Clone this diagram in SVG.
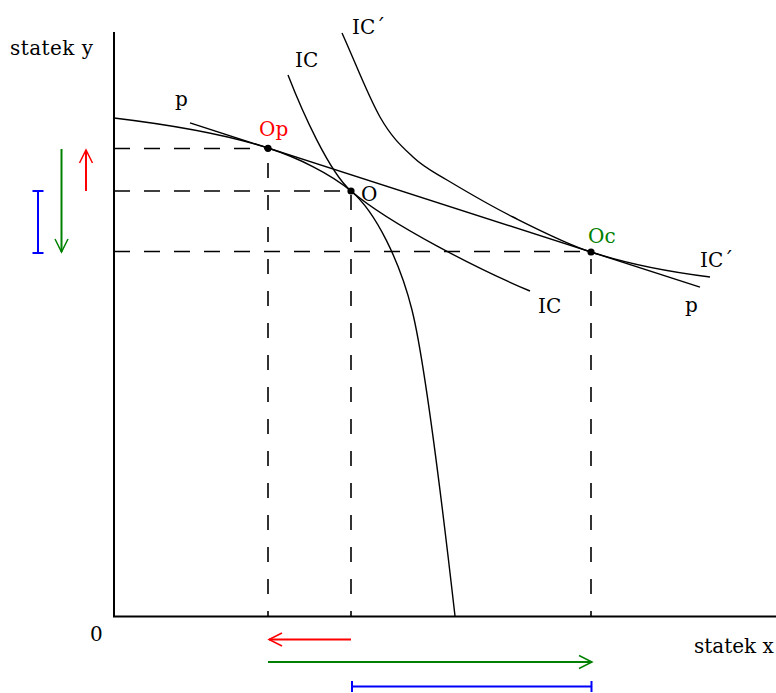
<svg xmlns="http://www.w3.org/2000/svg" width="776" height="693" viewBox="0 0 776 693">
  <style>
    .axis { stroke: #000; stroke-width: 2; fill: none; }
    .curve { stroke: #000; stroke-width: 1.4; fill: none; }
    .hdash { stroke: #000; stroke-width: 1.6; fill: none; stroke-dasharray: 16 14; }
    .vdash { stroke: #000; stroke-width: 1.6; fill: none; stroke-dasharray: 15 17; stroke-dashoffset: 10; }
    .lbl { font-family: "DejaVu Serif", "Liberation Serif", serif; font-size: 20px; fill: #000; }
    .red { stroke: #ff0000; }
    .green { stroke: #008000; }
    .blue { stroke: #0000ff; }
    .shaft { stroke-width: 2; fill: none; }
    .dot { fill: #000; }
  </style>
  <defs>
    <marker id="headRed" markerUnits="userSpaceOnUse" markerWidth="20" markerHeight="20" viewBox="-16 -10 20 20" refX="0" refY="0" orient="auto">
      <path d="M-13,-6.5 L0,0 L-13,6.5" fill="none" stroke="#ff0000" stroke-width="1.5"/>
    </marker>
    <marker id="headGreen" markerUnits="userSpaceOnUse" markerWidth="20" markerHeight="20" viewBox="-16 -10 20 20" refX="0" refY="0" orient="auto">
      <path d="M-13,-6.5 L0,0 L-13,6.5" fill="none" stroke="#008000" stroke-width="1.5"/>
    </marker>
  </defs>
  <rect width="776" height="693" fill="#fff"/>

  <g id="axes">
    <line class="axis" x1="114" y1="32" x2="114" y2="617"/>
    <line class="axis" x1="113" y1="616.5" x2="776" y2="616.5"/>
    <text class="lbl" x="10" y="55" textLength="83">statek y</text>
    <text class="lbl" x="694" y="653">statek x</text>
    <text class="lbl" x="90" y="641">0</text>
  </g>

  <g id="connectors">
    <g id="guides">
      <path class="hdash" d="M114 148.5 H268"/>
      <path class="hdash" d="M114 191 H351"/>
      <path class="hdash" d="M114 251.5 H591"/>
      <path class="vdash" d="M268 616 V148"/>
      <path class="vdash" d="M351 616 V191"/>
      <path class="vdash" d="M591 616 V252"/>
    </g>
    <path id="ppf" class="curve" d="M114 118 C164 124 218 132 268 148 C298 157.7 331 174 351 191 C376 212 400 262 412 310 C427 370 447 546 455 616"/>
    <path id="ic" class="curve" d="M288 75 C302 111 329 172 351 191 C391 225 480 270 530 291"/>
    <path id="icprime" class="curve" d="M342 33 C354.7 61 368.2 96.3 380 117 C391.8 137.7 401.8 146.5 413 157 C424.2 167.5 430.3 170 447 180 C463.7 190 489 205 513 217 C537 229 566.3 244 591 252 C631 265 670 272 710 277"/>
    <line id="price" class="curve" x1="190" y1="122.9" x2="700" y2="287.1"/>
  </g>

  <g id="node-Op">
    <circle class="dot" cx="268" cy="148.3" r="3.6"/>
    <text class="lbl" x="259" y="136" style="fill:#ff0000">Op</text>
  </g>
  <g id="node-O">
    <circle class="dot" cx="351" cy="191" r="3.6"/>
    <text class="lbl" x="361" y="201">O</text>
  </g>
  <g id="node-Oc">
    <circle class="dot" cx="591" cy="252" r="3.6"/>
    <text class="lbl" x="588" y="242.5" style="fill:#008000">Oc</text>
  </g>

  <g id="curve-labels">
    <text class="lbl" x="175" y="106">p</text>
    <text class="lbl" x="685" y="312">p</text>
    <text class="lbl" x="295" y="67">IC</text>
    <text class="lbl" x="538" y="313">IC</text>
    <text class="lbl" x="352" y="34">IC´</text>
    <text class="lbl" x="700" y="267">IC´</text>
  </g>

  <g id="changes-y">
    <line class="shaft red" x1="86" y1="191" x2="86" y2="150" marker-end="url(#headRed)"/>
    <line class="shaft green" x1="61.5" y1="149" x2="61.5" y2="252" marker-end="url(#headGreen)"/>
    <g class="blue shaft">
      <line x1="38" y1="191" x2="38" y2="253"/>
      <line x1="32.5" y1="191" x2="43.5" y2="191"/>
      <line x1="32.5" y1="253" x2="43.5" y2="253"/>
    </g>
  </g>

  <g id="changes-x">
    <line class="shaft red" x1="351" y1="639.5" x2="269" y2="639.5" marker-end="url(#headRed)"/>
    <line class="shaft green" x1="268" y1="662" x2="592" y2="662" marker-end="url(#headGreen)"/>
    <g class="blue shaft">
      <line x1="352" y1="686.5" x2="591.5" y2="686.5"/>
      <line x1="352" y1="681" x2="352" y2="692"/>
      <line x1="591.5" y1="681" x2="591.5" y2="692"/>
    </g>
  </g>
</svg>
